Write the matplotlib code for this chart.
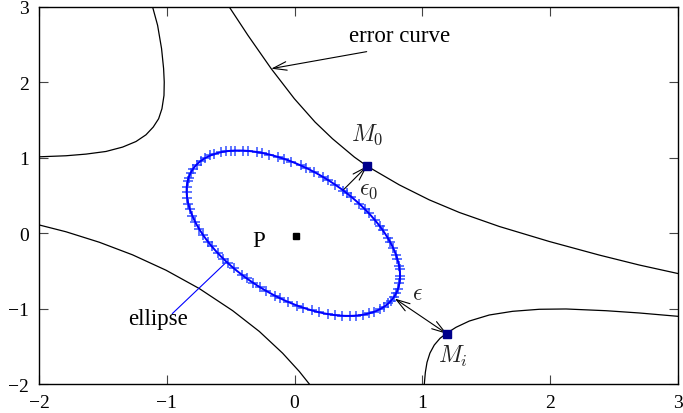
import numpy as np
import matplotlib
matplotlib.use("Agg")
import matplotlib.pyplot as plt

plt.rcParams['font.family'] = ['Liberation Serif', 'DejaVu Serif']
plt.rcParams['mathtext.fontset'] = 'cm'

# ---- data ----
xlim = (-2, 3)
ylim = (-2, 3)
xticks = [-2, -1, 0, 1, 2, 3]
yticks = [-2, -1, 0, 1, 2, 3]

# error-curve branches (x, y)
branch_a_x = [-1.111, -1.072, -1.041, -1.025, -1.020, -1.022, -1.038, -1.064, -1.106, -1.163,
              -1.241, -1.346, -1.476, -1.632, -1.789, -2.0]
branch_a_y = [3.0, 2.757, 2.448, 2.183, 2.005, 1.827, 1.651, 1.518, 1.408, 1.305,
              1.216, 1.142, 1.084, 1.049, 1.027, 1.013]

branch_b_x = [-0.511, -0.365, -0.183, -0.002, 0.160, 0.297, 0.468, 0.567, 0.819, 1.054,
              1.289, 1.602, 1.993, 2.384, 2.697, 2.997]
branch_b_y = [3.0, 2.624, 2.182, 1.784, 1.474, 1.252, 1.009, 0.890, 0.641, 0.442,
              0.275, 0.089, -0.110, -0.290, -0.422, -0.534]

branch_c_x = [-2.0, -1.789, -1.528, -1.268, -1.006, -0.746, -0.485, -0.276, -0.094, 0.037, 0.115]
branch_c_y = [0.110, 0.019, -0.120, -0.287, -0.491, -0.734, -1.027, -1.303, -1.591, -1.834, -2.0]

branch_d_x = [1.015, 1.023, 1.036, 1.059, 1.093, 1.138, 1.189, 1.263, 1.367, 1.523,
              1.706, 1.915, 2.124, 2.437, 2.697, 2.997]
branch_d_y = [-2.0, -1.846, -1.713, -1.590, -1.483, -1.394, -1.328, -1.248, -1.165, -1.085,
              -1.036, -1.009, -1.005, -1.028, -1.058, -1.102]

# ellipse: x = cx + ex*cos(t), y = cy + ey*cos(t - phase)
ell_center = (-0.01, 0.0)
ell_ex = 0.835
ell_ey = 1.097
ell_phase_deg = 121.0
marker_t_deg = [0, 5, 8, 13, 16, 21, 25, 28, 33, 36, 40, 45, 48, 52, 57, 60, 62, 67, 71, 74,
                79, 83, 86, 91, 95, 98, 103, 107, 110, 115, 118, 123, 126, 129, 133, 138, 141,
                146, 150, 155, 160, 164, 169, 172, 177, 181, 186, 190, 194, 199, 203, 208, 212,
                217, 220, 225, 229, 232, 236, 241, 244, 248, 252, 255, 260, 263, 267, 272, 275,
                280, 284, 289, 293, 297, 302, 306, 311, 315, 319, 324, 328, 333, 336, 340, 345,
                349, 354, 357]

P_point = (0.01, -0.04)
M0_point = (0.567, 0.89)
Mi_point = (1.192, -1.335)
eps0_start = (0.376, 0.565)
eps_start = (0.784, -0.867)
err_arrow_start = (0.564, 2.408)
err_arrow_end = (-0.183, 2.182)
ell_line_start = (-0.956, -1.065)
ell_line_end = (-0.527, -0.373)

# ---- figure ----
fig = plt.figure(figsize=(6.83, 4.14), dpi=100)
ax = fig.add_axes([39/683, 1-385/414, (678-39)/683, (385-8)/414])
ax.set_xlim(*xlim)
ax.set_ylim(*ylim)
ax.set_xticks(xticks)
ax.set_yticks(yticks)
ax.tick_params(direction='in', length=6.5, width=0.8, top=True, right=True,
               labelsize=14, color='#444444', pad=7)
for s in ax.spines.values():
    s.set_linewidth(1.0)

curve_kw = dict(color='black', lw=0.9, solid_joinstyle='round')
ax.plot(branch_a_x, branch_a_y, **curve_kw)
ax.plot(branch_b_x, branch_b_y, **curve_kw)
ax.plot(branch_c_x, branch_c_y, **curve_kw)
ax.plot(branch_d_x, branch_d_y, **curve_kw)

t = np.radians(np.linspace(0, 360, 721))
ph = np.radians(ell_phase_deg)
tm = np.radians(np.array(marker_t_deg, dtype=float))
ax.plot(ell_center[0] + ell_ex*np.cos(tm), ell_center[1] + ell_ey*np.cos(tm - ph),
        ls='none', marker='+', ms=7.5, mew=1.2, color='#2040ff', alpha=0.85, zorder=3)
ax.plot(ell_center[0] + ell_ex*np.cos(t), ell_center[1] + ell_ey*np.cos(t - ph),
        color='#0000ff', lw=1.4, zorder=4)

ax.plot(*P_point, marker='s', ms=4, color='black', ls='none')
ax.plot(*M0_point, marker='s', ms=6, color='#00008b', ls='none', zorder=5)
ax.plot(*Mi_point, marker='s', ms=6, color='#00008b', ls='none', zorder=5)

arrow_kw = dict(lw=0.8, color='black', shrinkA=0, shrinkB=0, mutation_scale=14)
ax.annotate('', xy=err_arrow_end, xytext=err_arrow_start,
            arrowprops=dict(arrowstyle='->,head_length=0.7,head_width=0.22', **arrow_kw))
ax.annotate('', xy=M0_point, xytext=eps0_start,
            arrowprops=dict(arrowstyle='->,head_length=0.7,head_width=0.22', **arrow_kw))
ax.annotate('', xy=Mi_point, xytext=eps_start,
            arrowprops=dict(arrowstyle='<->,head_length=0.7,head_width=0.22', **arrow_kw))
ax.plot([ell_line_start[0], ell_line_end[0]], [ell_line_start[1], ell_line_end[1]],
        color='#0000ff', lw=0.8)

ax.text(0.428, 2.55, 'error curve', fontsize=16.5, ha='left', va='baseline')
ax.text(-1.301, -1.21, 'ellipse', fontsize=16.5, ha='left', va='baseline')
ax.text(-0.33, -0.173, 'P', fontsize=16.5, ha='left', va='baseline')
ax.text(0.441, 1.23, r'$M_0$', fontsize=17, ha='left', va='baseline', color='#222222')
ax.text(0.506, 0.519, r'$\epsilon_0$', fontsize=17, ha='left', va='baseline', color='#222222')
ax.text(0.921, -0.873, r'$\epsilon$', fontsize=17, ha='left', va='baseline', color='#222222')
ax.text(1.124, -1.708, r'$M_i$', fontsize=17, ha='left', va='baseline', color='#222222')

fig.savefig('out.png', dpi=100)
